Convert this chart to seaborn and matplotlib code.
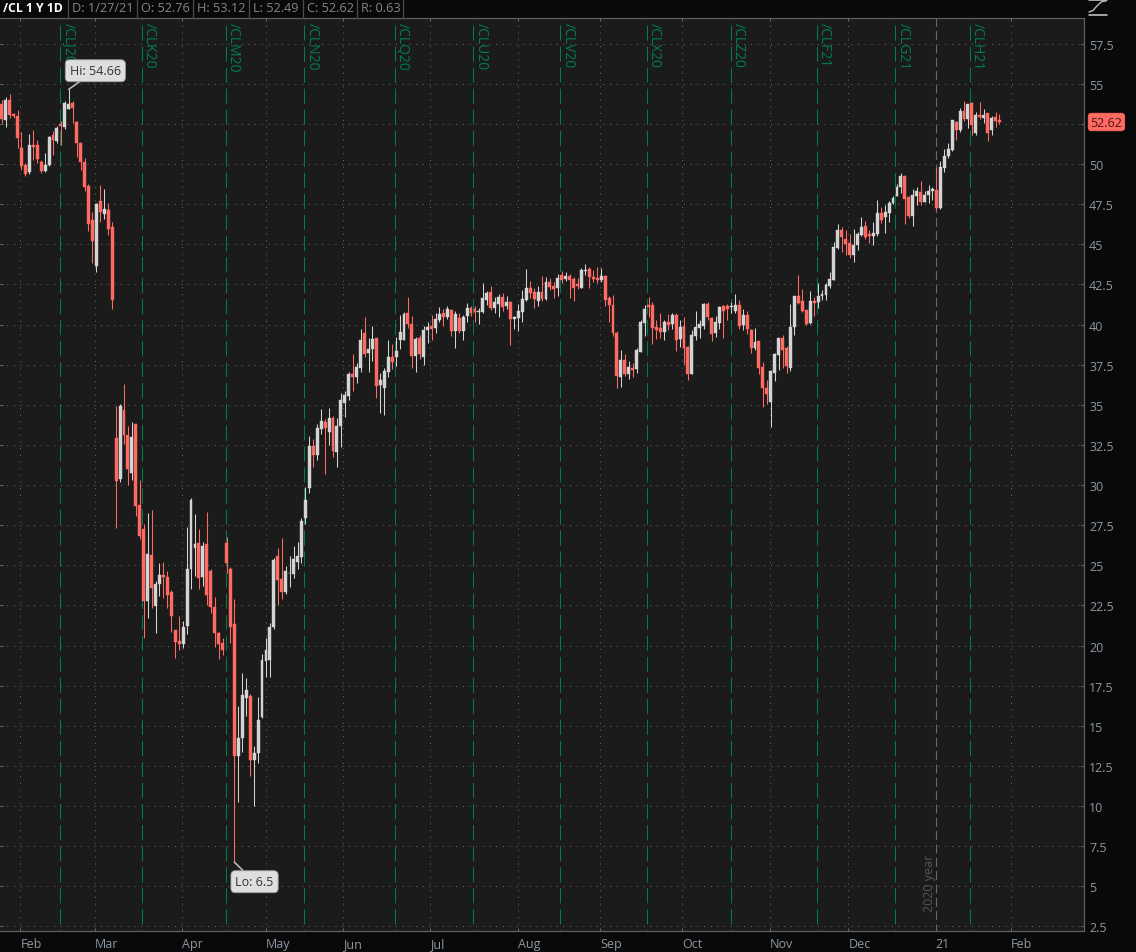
import matplotlib
matplotlib.use('Agg')
import matplotlib.pyplot as plt
from matplotlib.lines import Line2D
import numpy as np
import pandas as pd
import seaborn as sns

# daily candles, /CL front month, one value per session
opens = [
    53.77, 52.77, 54.02, 53.12, 53.02, 51.02, 49.96, 49.48, 51.20, 51.17, 50.13, 49.56, 49.92, 51.79, 51.42, 52.50, 52.33, 53.46, 53.79,
    52.65, 51.31, 50.10, 48.65, 46.52, 43.65, 47.71, 46.90, 47.15, 46.08, 32.92, 30.36, 34.67, 33.10, 30.74, 33.80, 28.74, 27.29, 22.78, 25.62, 22.46, 23.82, 24.38, 24.25, 23.34,
    20.95, 20.26, 20.07, 21.22, 24.75, 26.06, 26.37, 24.27, 26.31, 24.63, 22.38, 20.76, 20.13, 26.41, 24.75, 21.32, 13.09, 14.23, 16.75, 16.87, 12.90, 13.32, 15.54,
    19.03, 19.10, 21.18, 25.56, 24.13, 23.34, 24.50, 24.44, 25.23, 25.50, 27.97, 29.80, 32.42, 31.86, 33.48, 33.94, 33.29, 34.15, 32.04,
    33.67, 35.12, 35.52, 36.90, 36.71, 37.27, 39.46, 38.21, 38.46, 39.15, 36.21, 36.04, 37.04, 37.96, 37.98, 39.02, 39.02, 40.71, 40.02, 38.02, 39.15, 37.96,
    39.63, 39.90, 39.77, 40.27, 40.71, 40.46, 40.90, 39.58, 40.40, 39.58, 40.52, 41.02, 40.96, 40.80, 40.77, 41.52, 42.02, 41.02, 41.27, 41.71, 41.15, 41.40,
    40.33, 40.40, 40.77, 41.52, 42.27, 42.02, 41.46, 42.02, 41.58, 42.65, 42.40, 42.27, 43.08, 42.83, 43.02, 42.83, 42.54, 42.29, 43.35, 43.46, 42.96, 42.90, 42.77, 43.02,
    41.65, 41.21, 39.46, 36.73, 37.77, 36.90, 37.27, 37.21, 38.27, 40.08, 41.21, 41.21, 39.83, 39.77, 39.52, 40.15, 40.02,
    40.58, 39.08, 39.90, 38.58, 36.90, 39.27, 39.77, 39.90, 41.27, 40.40, 39.46, 40.08, 41.15, 41.15, 41.10, 40.83, 41.21, 39.96, 40.58, 39.65, 38.52, 38.96,
    37.33, 36.02, 35.15, 36.96, 38.08, 39.15, 38.52, 37.27, 39.83, 41.77, 41.46, 40.90, 40.08, 41.46, 41.40, 41.77, 41.83, 42.40, 42.77,
    44.75, 45.90, 45.33, 45.06, 44.33, 44.96, 45.58, 46.15, 45.65, 45.54, 45.65, 46.94, 46.69, 46.98, 47.56, 48.02, 48.54, 49.27, 47.94, 46.77, 48.02, 48.27,
    47.65, 48.08, 48.35, 48.40, 47.27, 49.77, 50.52, 50.90, 52.65, 52.13, 53.33, 52.83, 53.83, 51.96, 53.08, 52.90, 53.15, 52.15, 52.94, 52.76,
]
highs = [
    54.00, 54.20, 54.37, 53.20, 53.35, 51.98, 50.06, 51.88, 52.15, 51.52, 50.27, 50.69, 51.75, 52.04, 52.40, 52.67, 53.92, 54.66, 53.92,
    52.70, 51.35, 50.38, 48.77, 47.00, 47.60, 48.71, 48.46, 47.56, 46.40, 34.90, 35.04, 36.30, 33.65, 33.90, 33.80, 30.32, 27.55, 28.28, 28.45, 24.02, 25.17, 25.20, 24.65, 23.46,
    20.95, 21.84, 21.53, 27.41, 29.18, 28.22, 27.25, 26.46, 28.35, 24.75, 23.04, 20.86, 20.49, 26.79, 24.92, 22.90, 16.23, 18.30, 17.97, 17.00, 13.73, 16.79, 19.49,
    20.49, 21.42, 25.48, 26.10, 26.73, 24.96, 25.58, 26.20, 26.46, 27.97, 29.90, 33.07, 32.90, 33.79, 34.73, 34.10, 34.81, 34.29, 34.19,
    35.75, 35.85, 37.06, 38.19, 37.63, 39.71, 40.44, 39.15, 39.92, 39.15, 37.00, 37.31, 39.04, 38.77, 39.20, 40.60, 40.81, 41.69, 40.54, 39.23, 39.35, 39.90,
    40.13, 40.60, 40.75, 41.10, 40.96, 41.13, 40.96, 40.83, 40.75, 40.58, 41.33, 41.17, 41.13, 41.06, 42.56, 42.10, 42.38, 41.69, 41.90, 41.94, 41.79, 41.44,
    40.54, 41.27, 42.15, 43.46, 42.71, 42.27, 42.38, 43.00, 42.96, 42.88, 42.63, 43.15, 43.31, 43.25, 43.15, 42.94, 42.92, 43.55, 43.75, 43.56, 43.40, 43.56, 43.50, 43.08,
    41.77, 41.83, 39.58, 38.40, 38.15, 37.73, 37.63, 38.54, 40.31, 41.19, 41.73, 41.42, 40.27, 40.69, 40.31, 40.65, 40.69,
    40.73, 40.31, 40.44, 38.67, 39.65, 40.83, 40.31, 41.35, 41.42, 40.48, 40.52, 41.15, 41.21, 41.27, 41.42, 41.88, 41.52, 41.00, 40.85, 39.71, 39.81, 38.96,
    37.67, 36.52, 37.15, 38.25, 39.19, 39.33, 38.65, 41.31, 41.81, 43.06, 42.19, 40.90, 42.06, 41.69, 42.60, 42.15, 42.56, 43.29, 45.17,
    46.25, 46.06, 45.90, 45.65, 45.94, 45.79, 46.69, 46.48, 45.90, 46.42, 47.73, 47.31, 47.46, 47.67, 47.98, 48.77, 49.44, 49.33, 47.98, 48.46, 48.60, 48.92,
    48.35, 48.67, 48.56, 49.81, 50.19, 50.94, 51.31, 52.77, 52.71, 53.50, 53.94, 53.77, 53.88, 53.23, 53.88, 53.44, 53.19, 52.98, 53.25, 53.12,
]
lows = [
    52.56, 52.30, 52.90, 52.90, 51.00, 49.65, 49.23, 49.40, 50.27, 50.06, 49.44, 49.50, 49.90, 50.58, 51.31, 51.20, 52.19, 53.40, 52.56,
    50.44, 49.65, 48.29, 45.85, 43.81, 43.29, 46.42, 46.60, 45.58, 40.96, 27.35, 30.20, 32.55, 30.00, 30.30, 28.08, 26.66, 20.50, 21.70, 22.36, 20.80, 23.09, 22.94, 22.36, 20.86,
    19.24, 19.75, 19.86, 20.73, 23.54, 24.33, 23.54, 23.71, 22.53, 22.05, 19.93, 19.18, 19.41, 24.54, 20.18, 6.50, 10.24, 13.36, 15.64, 11.86, 10.03, 12.67, 15.48,
    18.03, 18.03, 21.05, 22.55, 22.92, 23.19, 23.67, 24.23, 24.79, 25.17, 27.55, 29.53, 31.13, 31.57, 33.17, 30.70, 32.48, 31.73, 31.10,
    32.38, 34.23, 35.31, 35.85, 36.38, 37.04, 37.98, 37.06, 37.73, 35.42, 34.50, 34.38, 36.75, 37.25, 37.42, 38.46, 39.02, 39.81, 37.29, 37.06, 37.83, 37.48,
    38.88, 39.02, 39.50, 40.13, 39.92, 40.33, 39.29, 38.56, 39.46, 39.04, 40.13, 40.54, 40.17, 40.02, 40.71, 41.21, 40.88, 40.75, 40.50, 40.85, 40.96, 38.73,
    39.71, 39.60, 40.19, 41.46, 41.63, 41.06, 41.17, 41.48, 41.54, 42.13, 41.63, 41.79, 42.58, 42.73, 41.65, 41.48, 42.21, 42.29, 43.08, 42.29, 42.67, 42.56, 42.63, 41.17,
    40.17, 39.27, 36.04, 36.10, 36.77, 36.58, 36.73, 36.98, 38.27, 39.27, 40.48, 38.77, 39.10, 39.19, 39.02, 39.65, 39.75,
    38.35, 38.60, 37.56, 36.56, 36.90, 39.02, 39.19, 39.73, 40.27, 38.98, 39.23, 39.73, 39.19, 40.31, 40.73, 40.73, 39.73, 39.69, 39.44, 38.23, 38.40, 36.94,
    34.85, 35.06, 33.60, 36.48, 37.15, 37.31, 36.98, 37.10, 39.35, 41.31, 40.77, 39.98, 40.04, 40.54, 41.06, 41.56, 41.52, 42.25, 42.77,
    44.69, 44.54, 44.33, 44.13, 43.88, 44.65, 45.54, 45.33, 45.10, 44.96, 45.54, 46.31, 45.69, 46.42, 47.52, 47.98, 48.19, 46.25, 46.63, 46.15, 47.46, 47.46,
    47.63, 47.56, 47.73, 47.15, 47.21, 49.48, 50.38, 50.79, 51.48, 52.02, 52.67, 52.25, 51.83, 51.79, 52.83, 52.56, 51.42, 51.79, 52.33, 52.49,
]
closes = [
    52.81, 54.02, 53.08, 52.98, 51.62, 49.90, 49.35, 51.20, 51.08, 50.31, 49.56, 49.96, 51.71, 51.52, 52.27, 52.35, 53.79, 53.77, 53.48,
    51.33, 50.10, 48.60, 46.27, 45.20, 47.52, 47.02, 47.21, 45.96, 41.52, 30.26, 34.92, 33.10, 31.00, 33.00, 28.70, 26.80, 22.80, 25.69, 23.57, 23.82, 24.38, 24.25, 23.15, 21.84,
    20.22, 20.07, 21.18, 24.75, 29.05, 26.31, 24.19, 26.19, 23.15, 22.38, 20.76, 20.07, 19.72, 25.17, 21.18, 13.09, 14.23, 16.93, 17.25, 12.90, 13.32, 15.37, 19.12,
    19.70, 21.18, 25.31, 24.06, 23.34, 24.63, 24.55, 25.37, 25.56, 27.74, 29.05, 32.42, 31.86, 33.54, 33.98, 33.54, 34.19, 32.15, 33.65,
    35.33, 35.58, 36.90, 36.71, 37.33, 39.02, 38.15, 38.46, 39.08, 36.17, 36.56, 37.08, 37.96, 37.65, 38.35, 39.52, 40.65, 40.02, 38.02, 39.08, 38.15, 39.65,
    39.83, 39.71, 40.33, 40.63, 40.46, 40.96, 39.58, 40.65, 39.58, 40.46, 41.02, 40.71, 40.77, 40.83, 41.65, 41.96, 41.02, 41.40, 41.71, 41.08, 41.40, 40.33,
    40.46, 40.83, 41.58, 42.27, 41.96, 41.58, 42.02, 41.58, 42.65, 42.33, 42.21, 42.90, 42.77, 43.02, 42.77, 42.27, 42.40, 43.40, 43.40, 42.96, 42.83, 42.77, 43.02, 41.52,
    41.21, 39.46, 36.77, 37.77, 36.90, 37.33, 37.15, 38.40, 40.15, 40.96, 41.08, 39.77, 39.65, 39.52, 40.15, 39.96, 40.58,
    39.02, 39.83, 38.52, 36.90, 39.33, 39.83, 40.02, 41.27, 40.46, 39.40, 40.15, 41.08, 40.83, 40.96, 41.15, 41.21, 39.90, 40.58, 39.71, 38.52, 38.90, 37.27,
    36.02, 35.65, 37.08, 38.15, 39.15, 38.40, 37.40, 39.83, 41.77, 41.33, 40.83, 40.02, 41.46, 41.33, 41.77, 41.90, 42.46, 42.83, 44.81,
    45.90, 45.44, 45.02, 44.33, 44.96, 45.65, 46.08, 45.44, 45.52, 45.69, 46.94, 46.52, 47.04, 47.56, 47.90, 48.54, 49.27, 47.85, 46.77, 48.06, 48.31, 47.65,
    48.06, 48.33, 48.46, 47.27, 49.81, 50.52, 50.94, 52.77, 52.15, 53.33, 52.83, 53.77, 52.46, 53.08, 52.96, 53.08, 51.96, 52.90, 52.71, 52.62,
]

# session index of each month start and each contract roll
month_labels = ['Feb', 'Mar', 'Apr', 'May', 'Jun', 'Jul', 'Aug', 'Sep', 'Oct', 'Nov', 'Dec', '21', 'Feb']
month_pos = [4.7, 23.7, 45.8, 66.9, 86.6, 108.7, 130.8, 151.8, 172.6, 194.7, 214.7, 236.8, 255.8]
roll_labels = ['/CLJ20', '/CLK20', '/CLM20', '/CLN20', '/CLQ20', '/CLU20', '/CLV20', '/CLX20', '/CLZ20', '/CLF21', '/CLG21', '/CLH21']
roll_pos = [14.9, 35.65, 56.75, 76.74, 99.8, 119.6, 141.66, 163.7, 184.8, 206.6, 226.6, 245.6]
year_pos = 236.8

y_ticks = [2.5 * k for k in range(1, 24)]
hi_idx, hi_val = 17, 54.66
lo_idx, lo_val = 59, 6.5
last_close = 52.62
header = [('D: 1/27/21', 72), ('O: 52.76', 141), ('H: 53.12', 197), ('L: 52.49', 253), ('C: 52.62', 307), ('R: 0.63', 361)]
separators = [68, 137, 193, 249, 303, 357, 403]

RED = '#ff6a62'
GRAY = '#d4d4d4'
GREEN = '#007d4f'
TICK = '#8b98a3'
W, H = 1136, 953

sns.set_theme(style='dark', rc={'axes.facecolor': '#1b1b1b', 'figure.facecolor': '#090909'})
plt.rcParams['font.family'] = ['Open Sans', 'DejaVu Sans']

df = pd.DataFrame({'open': opens, 'high': highs, 'low': lows, 'close': closes})
df['session'] = df.index
df['bottom'] = df[['open', 'close']].min(axis=1)
df['body'] = (df['open'] - df['close']).abs()
df['down'] = df['close'] < df['open']

fig = plt.figure(figsize=(W / 100, H / 100), dpi=100)
ax = fig.add_axes([0, (H - 932) / H, 1083.5 / W, (932 - 19) / H])

# grid first so everything sits on top of it
for v in y_ticks:
    ax.axhline(v, color='#686868', lw=0.72, ls=(0, (1, 5.7)), zorder=1)
for m in month_pos:
    if m != year_pos:
        ax.axvline(m, color='#686868', lw=0.72, ls=(0, (1, 5.7)), zorder=1)
ax.vlines(year_pos, 60, 2, color='#6a6a6a', lw=0.8, ls=(0, (8, 4)), zorder=1, snap=True)
ax.vlines(roll_pos, 60, 2, color=GREEN, lw=0.75, ls=(0, (14.5, 5.7)), zorder=1, snap=True)

# wicks and bodies
for down, color in [(True, RED), (False, GRAY)]:
    part = df[df['down'] == down]
    ax.vlines(part['session'], part['low'], part['high'], color=color, lw=0.75, zorder=3, snap=True)
    sns.barplot(data=part, x='session', y='body', bottom=part['bottom'].values, native_scale=True,
                color=color, saturation=1, width=0.74, edgecolor=color, linewidth=0.3, zorder=4, ax=ax)

ax.set_xlim(-0.44, 274.3)
ax.set_ylim(2.215, 59.1)
ax.set_xlabel('')
ax.set_ylabel('')

ax.set_xticks(month_pos)
ax.set_xticklabels(month_labels, ha='left', color=TICK, fontsize=9)
ax.set_yticks(y_ticks)
ax.set_yticklabels(['' if v == 52.5 else f'{v:g}' for v in y_ticks], color=TICK, fontsize=9)
ax.yaxis.tick_right()
ax.tick_params(axis='x', direction='in', length=2.2, width=0.72, color='#6a6a6a', pad=4.5, bottom=True, top=True)
ax.tick_params(axis='y', direction='in', length=2.2, width=0.72, color='#6a6a6a', pad=4, left=True, right=True)
for name, spine in ax.spines.items():
    spine.set_visible(name != 'left')
    spine.set_color('#5e5e5e')
    spine.set_linewidth(0.9)

# contract roll labels
for label, pos in zip(roll_labels, roll_pos):
    ax.annotate(label, xy=(pos, 1), xycoords=('data', 'axes fraction'), xytext=(0, -4), textcoords='offset pixels',
                rotation=270, ha='left', va='top', color=GREEN, fontsize=10, zorder=2)

ax.annotate('2020 year', xy=(year_pos, 0), xycoords=('data', 'axes fraction'), xytext=(0, 20), textcoords='offset pixels',
            rotation=90, ha='right', va='bottom', color='#555555', fontsize=9, zorder=2)

# high / low callouts
box = dict(boxstyle='round,pad=0.36,rounding_size=0.35', fc='#dedede', ec='#9a9a9a', lw=0.6)
ax.annotate(f'Hi: {hi_val}', xy=(hi_idx, hi_val), xytext=(1, 12), textcoords='offset pixels', ha='left', va='bottom',
            color='#333333', fontsize=9, bbox=box, zorder=6,
            arrowprops=dict(arrowstyle='-', color='#b8b8b8', lw=1.2, shrinkA=0, shrinkB=0))
ax.annotate(f'Lo: {lo_val}', xy=(lo_idx, lo_val), xytext=(1, -13), textcoords='offset pixels', ha='left', va='top',
            color='#333333', fontsize=9, bbox=box, zorder=6,
            arrowprops=dict(arrowstyle='-', color='#b8b8b8', lw=1.2, shrinkA=0, shrinkB=0))

# last price tag on the scale
ax.annotate(f'{last_close}', xy=(1, last_close), xycoords=('axes fraction', 'data'), xytext=(7, 0), textcoords='offset pixels',
            ha='left', va='center', color='#4a1512', fontsize=9, annotation_clip=False, zorder=7,
            bbox=dict(boxstyle='round,pad=0.18,rounding_size=0.25', fc=RED, ec=RED, lw=0.6))

# header bar
fig.text(3 / W, 1 - 8.5 / H, '/CL 1 Y 1D', color='white', fontsize=8.8, fontweight='bold', va='center')
for text, left in header:
    fig.text(left / W, 1 - 8.5 / H, text, color='#858585', fontsize=9.2, va='center')
for s in separators:
    fig.add_artist(Line2D([s / W, s / W], [1 - 19 / H, 1], color='#4c4c4c', lw=0.9))

# study icon, top right
for yp in (0.5, 15.5):
    fig.add_artist(Line2D([1089 / W, 1107 / W], [1 - yp / H, 1 - yp / H], color='#d0d0d0', lw=1.1))
curve_x = [1089, 1093, 1096, 1099, 1102, 1106]
curve_y = [13, 11.5, 8, 5, 2.5, 2]
fig.add_artist(Line2D([c / W for c in curve_x], [1 - c / H for c in curve_y], color='#bcbcbc', lw=1.0))

fig.savefig('out.png', dpi=100, facecolor=fig.get_facecolor())
